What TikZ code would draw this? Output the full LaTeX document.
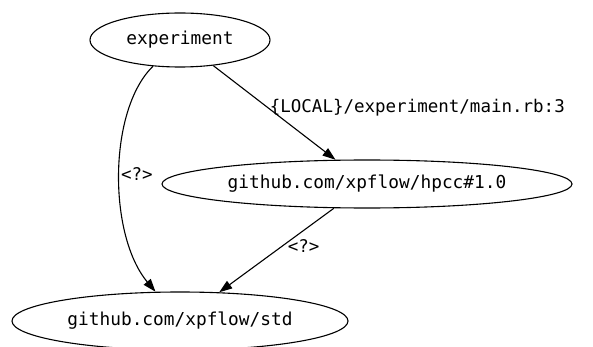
\documentclass[tikz,border=0pt]{standalone}
\usepackage{fontspec}
\setmonofont{DejaVu Sans Mono}
\usetikzlibrary{shapes.geometric, arrows.meta}

\begin{document}
\begin{tikzpicture}[x=1pt,y=-1pt,
    pkg/.style={ellipse, draw, line width=1.1pt, inner sep=0pt,
      font=\ttfamily\fontsize{17.8}{20}\selectfont},
    dep/.style={-{Triangle[length=13pt,width=9pt]}, line width=1.1pt},
    deplabel/.style={inner sep=1pt, font=\ttfamily\fontsize{17.5}{20}\selectfont}]
  \path[use as bounding box] (0,0) rectangle (593,347);

  % packages
  \node[pkg, minimum width=180pt, minimum height=54pt] (experiment) at (180,40) {experiment};
  \node[pkg, minimum width=410pt, minimum height=48pt] (hpcc) at (367,184) {github.com/xpflow/hpcc\#1.0};
  \node[pkg, minimum width=336pt, minimum height=58pt] (std) at (180,321) {github.com/xpflow/std};

  % dependencies
  \draw[dep] (experiment) -- node[deplabel, anchor=west, pos=0.45] {\{LOCAL\}/experiment/main.rb:3} (hpcc);
  \draw[dep] (experiment) .. controls (108,110) and (108,235) .. node[deplabel, anchor=west, pos=0.5] {<?>} (std);
  \draw[dep] (hpcc) -- node[deplabel, anchor=west, pos=0.45, xshift=4pt] {<?>} (std);
\end{tikzpicture}
\end{document}
